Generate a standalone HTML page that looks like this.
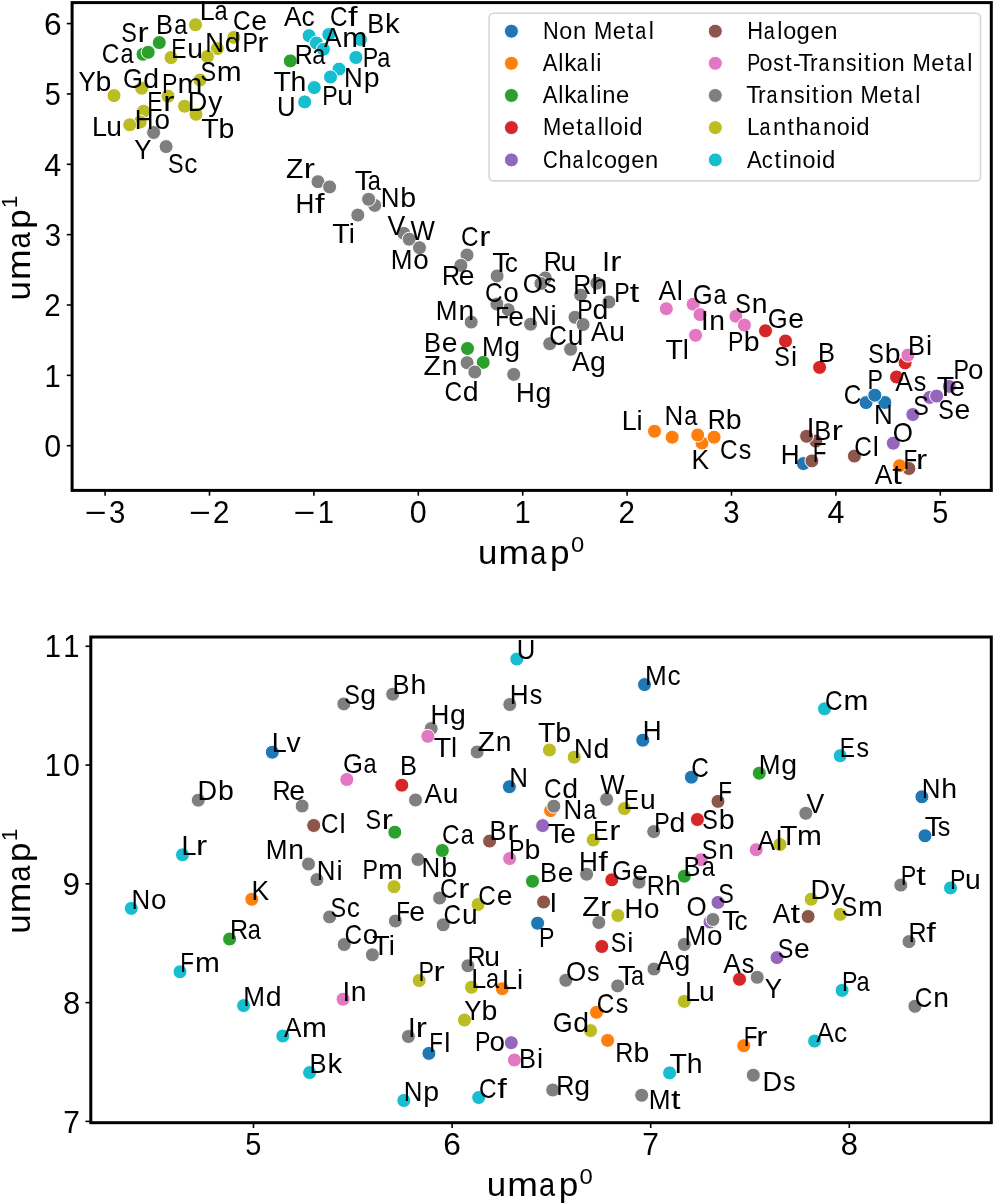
<!DOCTYPE html>
<html><head><meta charset="utf-8"><title>UMAP of elements</title>
<style>
html,body{margin:0;padding:0;background:#fff;}
body{width:993px;height:1203px;overflow:hidden;}
svg{display:block;will-change:transform;font-family:"Liberation Sans", sans-serif;font-kerning:none;}
text{font-kerning:none;}
</style></head><body>
<svg width="993" height="1203" viewBox="0 0 993 1203">
<rect width="993" height="1203" fill="#ffffff"/>
<g id="top">
<g stroke="#ffffff" stroke-width="1.0">
<circle cx="803.4" cy="463.6" r="7" fill="#1f77b4"/>
<circle cx="654.5" cy="431.3" r="7" fill="#ff7f0e"/>
<circle cx="467.5" cy="348.5" r="7" fill="#2ca02c"/>
<circle cx="819.6" cy="367.4" r="7" fill="#d62728"/>
<circle cx="866.1" cy="402.6" r="7" fill="#1f77b4"/>
<circle cx="884.8" cy="402.5" r="7" fill="#1f77b4"/>
<circle cx="893.3" cy="443.2" r="7" fill="#9467bd"/>
<circle cx="811.9" cy="460.9" r="7" fill="#8c564b"/>
<circle cx="672.2" cy="437.2" r="7" fill="#ff7f0e"/>
<circle cx="483.2" cy="362.4" r="7" fill="#2ca02c"/>
<circle cx="666.3" cy="308.7" r="7" fill="#e377c2"/>
<circle cx="785.5" cy="341" r="7" fill="#d62728"/>
<circle cx="874.8" cy="395.2" r="7" fill="#1f77b4"/>
<circle cx="912.8" cy="414.5" r="7" fill="#9467bd"/>
<circle cx="854.4" cy="456.1" r="7" fill="#8c564b"/>
<circle cx="702" cy="443" r="7" fill="#ff7f0e"/>
<circle cx="143" cy="54.3" r="7" fill="#2ca02c"/>
<circle cx="166.1" cy="146.6" r="7" fill="#7f7f7f"/>
<circle cx="357.8" cy="215.1" r="7" fill="#7f7f7f"/>
<circle cx="403.8" cy="233.4" r="7" fill="#7f7f7f"/>
<circle cx="467" cy="255" r="7" fill="#7f7f7f"/>
<circle cx="471.2" cy="322.1" r="7" fill="#7f7f7f"/>
<circle cx="508.2" cy="309.7" r="7" fill="#7f7f7f"/>
<circle cx="496.9" cy="304" r="7" fill="#7f7f7f"/>
<circle cx="530.6" cy="324.2" r="7" fill="#7f7f7f"/>
<circle cx="549.7" cy="343.7" r="7" fill="#7f7f7f"/>
<circle cx="467.1" cy="362.7" r="7" fill="#7f7f7f"/>
<circle cx="693.2" cy="304.2" r="7" fill="#e377c2"/>
<circle cx="765.5" cy="330.8" r="7" fill="#d62728"/>
<circle cx="896.5" cy="377" r="7" fill="#d62728"/>
<circle cx="929.7" cy="397.4" r="7" fill="#9467bd"/>
<circle cx="815.8" cy="441.1" r="7" fill="#8c564b"/>
<circle cx="697.7" cy="435" r="7" fill="#ff7f0e"/>
<circle cx="148.2" cy="52.3" r="7" fill="#2ca02c"/>
<circle cx="153.6" cy="132.5" r="7" fill="#7f7f7f"/>
<circle cx="318" cy="181.7" r="7" fill="#7f7f7f"/>
<circle cx="374.7" cy="205.4" r="7" fill="#7f7f7f"/>
<circle cx="409.2" cy="239.2" r="7" fill="#7f7f7f"/>
<circle cx="497.1" cy="275.9" r="7" fill="#7f7f7f"/>
<circle cx="545.3" cy="277.9" r="7" fill="#7f7f7f"/>
<circle cx="580.7" cy="295.1" r="7" fill="#7f7f7f"/>
<circle cx="575" cy="317.3" r="7" fill="#7f7f7f"/>
<circle cx="570.6" cy="349.3" r="7" fill="#7f7f7f"/>
<circle cx="474.8" cy="372" r="7" fill="#7f7f7f"/>
<circle cx="700" cy="314.6" r="7" fill="#e377c2"/>
<circle cx="735.9" cy="316.2" r="7" fill="#e377c2"/>
<circle cx="905.1" cy="362.9" r="7" fill="#d62728"/>
<circle cx="936.6" cy="396.1" r="7" fill="#9467bd"/>
<circle cx="806.6" cy="436.3" r="7" fill="#8c564b"/>
<circle cx="714.1" cy="437.2" r="7" fill="#ff7f0e"/>
<circle cx="159.3" cy="42.6" r="7" fill="#2ca02c"/>
<circle cx="195.5" cy="24.7" r="7" fill="#bcbd22"/>
<circle cx="233.8" cy="37.4" r="7" fill="#bcbd22"/>
<circle cx="217.3" cy="48.6" r="7" fill="#bcbd22"/>
<circle cx="207.4" cy="56.5" r="7" fill="#bcbd22"/>
<circle cx="168" cy="96.2" r="7" fill="#bcbd22"/>
<circle cx="200" cy="80" r="7" fill="#bcbd22"/>
<circle cx="171" cy="57.6" r="7" fill="#bcbd22"/>
<circle cx="141.7" cy="88.2" r="7" fill="#bcbd22"/>
<circle cx="196" cy="114.3" r="7" fill="#bcbd22"/>
<circle cx="184.6" cy="106.2" r="7" fill="#bcbd22"/>
<circle cx="143.6" cy="111.3" r="7" fill="#bcbd22"/>
<circle cx="140.2" cy="122" r="7" fill="#bcbd22"/>
<circle cx="114" cy="95.6" r="7" fill="#bcbd22"/>
<circle cx="129.7" cy="124.8" r="7" fill="#bcbd22"/>
<circle cx="329.6" cy="186.9" r="7" fill="#7f7f7f"/>
<circle cx="368.6" cy="199.3" r="7" fill="#7f7f7f"/>
<circle cx="419.5" cy="247.7" r="7" fill="#7f7f7f"/>
<circle cx="460.9" cy="265.4" r="7" fill="#7f7f7f"/>
<circle cx="540.9" cy="283.5" r="7" fill="#7f7f7f"/>
<circle cx="596.8" cy="283.2" r="7" fill="#7f7f7f"/>
<circle cx="608.9" cy="302" r="7" fill="#7f7f7f"/>
<circle cx="583.1" cy="324.5" r="7" fill="#7f7f7f"/>
<circle cx="513.7" cy="374.4" r="7" fill="#7f7f7f"/>
<circle cx="695.6" cy="335.3" r="7" fill="#e377c2"/>
<circle cx="744.4" cy="325.1" r="7" fill="#e377c2"/>
<circle cx="907.9" cy="355.1" r="7" fill="#e377c2"/>
<circle cx="949.3" cy="386.4" r="7" fill="#9467bd"/>
<circle cx="908.9" cy="468.5" r="7" fill="#8c564b"/>
<circle cx="899.6" cy="465.7" r="7" fill="#ff7f0e"/>
<circle cx="290.3" cy="60.9" r="7" fill="#2ca02c"/>
<circle cx="309.1" cy="35.7" r="7" fill="#17becf"/>
<circle cx="314.3" cy="87.6" r="7" fill="#17becf"/>
<circle cx="355.9" cy="57.5" r="7" fill="#17becf"/>
<circle cx="304.7" cy="101.9" r="7" fill="#17becf"/>
<circle cx="339" cy="69.1" r="7" fill="#17becf"/>
<circle cx="330.5" cy="77" r="7" fill="#17becf"/>
<circle cx="316.4" cy="43" r="7" fill="#17becf"/>
<circle cx="323.4" cy="49.3" r="7" fill="#17becf"/>
<circle cx="360.4" cy="39.5" r="7" fill="#17becf"/>
<circle cx="328.8" cy="34.5" r="7" fill="#17becf"/>
</g>
<g fill="#000">
<text y="42" font-size="27.51"><tspan x="121.34" textLength="15.58" lengthAdjust="spacingAndGlyphs">S</tspan><tspan x="137.45" textLength="11.18" lengthAdjust="spacingAndGlyphs">r</tspan></text>
<text y="63.4" font-size="27.51"><tspan x="101.86" textLength="17.56" lengthAdjust="spacingAndGlyphs">C</tspan><tspan x="120.5" textLength="13.1" lengthAdjust="spacingAndGlyphs">a</tspan></text>
<text y="34.3" font-size="27.51"><tspan x="156.11" textLength="16.98" lengthAdjust="spacingAndGlyphs">B</tspan><tspan x="174.18" textLength="13.1" lengthAdjust="spacingAndGlyphs">a</tspan></text>
<text y="19.6" font-size="27.51"><tspan x="199.79" textLength="14.99" lengthAdjust="spacingAndGlyphs">L</tspan><tspan x="214.6" textLength="13.1" lengthAdjust="spacingAndGlyphs">a</tspan></text>
<text y="30.2" font-size="27.51"><tspan x="232.96" textLength="17.56" lengthAdjust="spacingAndGlyphs">C</tspan><tspan x="251.27" textLength="15.74" lengthAdjust="spacingAndGlyphs">e</tspan></text>
<text y="58.4" font-size="27.51"><tspan x="171.14" textLength="15.15" lengthAdjust="spacingAndGlyphs">E</tspan><tspan x="187.37" textLength="15.71" lengthAdjust="spacingAndGlyphs">u</tspan></text>
<text y="52" font-size="27.51"><tspan x="205.28" textLength="18.69" lengthAdjust="spacingAndGlyphs">N</tspan><tspan x="224.68" textLength="15.84" lengthAdjust="spacingAndGlyphs">d</tspan></text>
<text y="52" font-size="27.51"><tspan x="242.4" textLength="15.46" lengthAdjust="spacingAndGlyphs">P</tspan><tspan x="257.22" textLength="11.18" lengthAdjust="spacingAndGlyphs">r</tspan></text>
<text y="90.8" font-size="27.51"><tspan x="78.43" textLength="17.24" lengthAdjust="spacingAndGlyphs">Y</tspan><tspan x="95.6" textLength="15.85" lengthAdjust="spacingAndGlyphs">b</tspan></text>
<text y="87.8" font-size="27.51"><tspan x="123.01" textLength="19.88" lengthAdjust="spacingAndGlyphs">G</tspan><tspan x="143.38" textLength="15.84" lengthAdjust="spacingAndGlyphs">d</tspan></text>
<text y="92.5" font-size="27.51"><tspan x="162.1" textLength="15.46" lengthAdjust="spacingAndGlyphs">P</tspan><tspan x="177.63" textLength="24.87" lengthAdjust="spacingAndGlyphs">m</tspan></text>
<text y="80.6" font-size="27.51"><tspan x="200.44" textLength="15.58" lengthAdjust="spacingAndGlyphs">S</tspan><tspan x="216.8" textLength="24.87" lengthAdjust="spacingAndGlyphs">m</tspan></text>
<text y="111" font-size="27.51"><tspan x="147.34" textLength="15.15" lengthAdjust="spacingAndGlyphs">E</tspan><tspan x="163.33" textLength="11.18" lengthAdjust="spacingAndGlyphs">r</tspan></text>
<text y="111" font-size="27.51"><tspan x="187.78" textLength="19.58" lengthAdjust="spacingAndGlyphs">D</tspan><tspan x="208.31" textLength="14.07" lengthAdjust="spacingAndGlyphs">y</tspan></text>
<text y="128.8" font-size="27.51"><tspan x="134.86" textLength="18.82" lengthAdjust="spacingAndGlyphs">H</tspan><tspan x="154.41" textLength="15.49" lengthAdjust="spacingAndGlyphs">o</tspan></text>
<text y="136" font-size="27.51"><tspan x="91.99" textLength="14.99" lengthAdjust="spacingAndGlyphs">L</tspan><tspan x="106.16" textLength="15.71" lengthAdjust="spacingAndGlyphs">u</tspan></text>
<text y="137.7" font-size="27.51"><tspan x="201.36" textLength="17.46" lengthAdjust="spacingAndGlyphs">T</tspan><tspan x="218.62" textLength="15.85" lengthAdjust="spacingAndGlyphs">b</tspan></text>
<text y="159.3" font-size="27.51"><tspan x="134.23" textLength="17.24" lengthAdjust="spacingAndGlyphs">Y</tspan></text>
<text y="173.4" font-size="27.51"><tspan x="167.94" textLength="15.58" lengthAdjust="spacingAndGlyphs">S</tspan><tspan x="184.23" textLength="13.14" lengthAdjust="spacingAndGlyphs">c</tspan></text>
<text y="26.4" font-size="27.51"><tspan x="283.95" textLength="17.6" lengthAdjust="spacingAndGlyphs">A</tspan><tspan x="301.59" textLength="13.14" lengthAdjust="spacingAndGlyphs">c</tspan></text>
<text y="26.4" font-size="27.51"><tspan x="329.96" textLength="17.56" lengthAdjust="spacingAndGlyphs">C</tspan><tspan x="348.14" textLength="9.55" lengthAdjust="spacingAndGlyphs">f</tspan></text>
<text y="33" font-size="27.51"><tspan x="367.21" textLength="16.98" lengthAdjust="spacingAndGlyphs">B</tspan><tspan x="385.11" textLength="14.65" lengthAdjust="spacingAndGlyphs">k</tspan></text>
<text y="47.1" font-size="27.51"><tspan x="324.05" textLength="17.6" lengthAdjust="spacingAndGlyphs">A</tspan><tspan x="342.22" textLength="24.87" lengthAdjust="spacingAndGlyphs">m</tspan></text>
<text y="64" font-size="27.51"><tspan x="294.64" textLength="18.1" lengthAdjust="spacingAndGlyphs">R</tspan><tspan x="312.33" textLength="13.1" lengthAdjust="spacingAndGlyphs">a</tspan></text>
<text y="66.9" font-size="27.51"><tspan x="362.7" textLength="15.46" lengthAdjust="spacingAndGlyphs">P</tspan><tspan x="377.22" textLength="13.1" lengthAdjust="spacingAndGlyphs">a</tspan></text>
<text y="90.9" font-size="27.51"><tspan x="273.46" textLength="17.46" lengthAdjust="spacingAndGlyphs">T</tspan><tspan x="290.59" textLength="15.82" lengthAdjust="spacingAndGlyphs">h</tspan></text>
<text y="86.9" font-size="27.51"><tspan x="344.08" textLength="18.69" lengthAdjust="spacingAndGlyphs">N</tspan><tspan x="363.77" textLength="15.85" lengthAdjust="spacingAndGlyphs">p</tspan></text>
<text y="105.4" font-size="27.51"><tspan x="322.2" textLength="15.46" lengthAdjust="spacingAndGlyphs">P</tspan><tspan x="337.26" textLength="15.71" lengthAdjust="spacingAndGlyphs">u</tspan></text>
<text y="116.4" font-size="27.51"><tspan x="277.01" textLength="18.6" lengthAdjust="spacingAndGlyphs">U</tspan></text>
<text y="177.5" font-size="27.51"><tspan x="286" textLength="17.39" lengthAdjust="spacingAndGlyphs">Z</tspan><tspan x="303.82" textLength="11.18" lengthAdjust="spacingAndGlyphs">r</tspan></text>
<text y="213.3" font-size="27.51"><tspan x="295.56" textLength="18.82" lengthAdjust="spacingAndGlyphs">H</tspan><tspan x="314.95" textLength="9.55" lengthAdjust="spacingAndGlyphs">f</tspan></text>
<text y="189.9" font-size="27.51"><tspan x="354.76" textLength="17.46" lengthAdjust="spacingAndGlyphs">T</tspan><tspan x="367.72" textLength="13.1" lengthAdjust="spacingAndGlyphs">a</tspan></text>
<text y="206.5" font-size="27.51"><tspan x="380.68" textLength="18.69" lengthAdjust="spacingAndGlyphs">N</tspan><tspan x="400.37" textLength="15.85" lengthAdjust="spacingAndGlyphs">b</tspan></text>
<text y="243.1" font-size="27.51"><tspan x="332.16" textLength="17.46" lengthAdjust="spacingAndGlyphs">T</tspan><tspan x="348.67">i</tspan></text>
<text y="235.2" font-size="27.51"><tspan x="387.38" textLength="17.73" lengthAdjust="spacingAndGlyphs">V</tspan></text>
<text y="240.2" font-size="27.51"><tspan x="410.49" textLength="24.38" lengthAdjust="spacingAndGlyphs">W</tspan></text>
<text y="269.2" font-size="27.51"><tspan x="390.76" textLength="21.76" lengthAdjust="spacingAndGlyphs">M</tspan><tspan x="413.21" textLength="15.49" lengthAdjust="spacingAndGlyphs">o</tspan></text>
<text y="246" font-size="27.51"><tspan x="460.96" textLength="17.56" lengthAdjust="spacingAndGlyphs">C</tspan><tspan x="479.17" textLength="11.18" lengthAdjust="spacingAndGlyphs">r</tspan></text>
<text y="284.6" font-size="27.51"><tspan x="442.04" textLength="18.1" lengthAdjust="spacingAndGlyphs">R</tspan><tspan x="458.8" textLength="15.74" lengthAdjust="spacingAndGlyphs">e</tspan></text>
<text y="272" font-size="27.51"><tspan x="492.16" textLength="17.46" lengthAdjust="spacingAndGlyphs">T</tspan><tspan x="504.76" textLength="13.14" lengthAdjust="spacingAndGlyphs">c</tspan></text>
<text y="302.4" font-size="27.51"><tspan x="484.96" textLength="17.56" lengthAdjust="spacingAndGlyphs">C</tspan><tspan x="503.3" textLength="15.49" lengthAdjust="spacingAndGlyphs">o</tspan></text>
<text y="270.7" font-size="27.51"><tspan x="543.64" textLength="18.1" lengthAdjust="spacingAndGlyphs">R</tspan><tspan x="560.55" textLength="15.71" lengthAdjust="spacingAndGlyphs">u</tspan></text>
<text y="271.2" font-size="27.51"><tspan x="602.37">I</tspan><tspan x="610.21" textLength="11.18" lengthAdjust="spacingAndGlyphs">r</tspan></text>
<text y="292.5" font-size="27.51"><tspan x="522.67" textLength="20.15" lengthAdjust="spacingAndGlyphs">O</tspan><tspan x="543.77" textLength="12.56" lengthAdjust="spacingAndGlyphs">s</tspan></text>
<text y="293.8" font-size="27.51"><tspan x="573.34" textLength="18.1" lengthAdjust="spacingAndGlyphs">R</tspan><tspan x="591.44" textLength="15.82" lengthAdjust="spacingAndGlyphs">h</tspan></text>
<text y="301.5" font-size="27.51"><tspan x="614.3" textLength="15.46" lengthAdjust="spacingAndGlyphs">P</tspan><tspan x="629.69" textLength="9.55" lengthAdjust="spacingAndGlyphs">t</tspan></text>
<text y="326.1" font-size="27.51"><tspan x="495.16" textLength="13.72" lengthAdjust="spacingAndGlyphs">F</tspan><tspan x="508.31" textLength="15.74" lengthAdjust="spacingAndGlyphs">e</tspan></text>
<text y="325.3" font-size="27.51"><tspan x="530.88" textLength="18.69" lengthAdjust="spacingAndGlyphs">N</tspan><tspan x="550.62">i</tspan></text>
<text y="318.7" font-size="27.51"><tspan x="577.2" textLength="15.46" lengthAdjust="spacingAndGlyphs">P</tspan><tspan x="592.58" textLength="15.84" lengthAdjust="spacingAndGlyphs">d</tspan></text>
<text y="319.8" font-size="27.51"><tspan x="435.86" textLength="21.76" lengthAdjust="spacingAndGlyphs">M</tspan><tspan x="458.54" textLength="15.71" lengthAdjust="spacingAndGlyphs">n</tspan></text>
<text y="352.3" font-size="27.51"><tspan x="424.01" textLength="16.98" lengthAdjust="spacingAndGlyphs">B</tspan><tspan x="441.75" textLength="15.74" lengthAdjust="spacingAndGlyphs">e</tspan></text>
<text y="356" font-size="27.51"><tspan x="481.96" textLength="21.76" lengthAdjust="spacingAndGlyphs">M</tspan><tspan x="504.38" textLength="15.84" lengthAdjust="spacingAndGlyphs">g</tspan></text>
<text y="374.6" font-size="27.51"><tspan x="423.6" textLength="17.39" lengthAdjust="spacingAndGlyphs">Z</tspan><tspan x="441.78" textLength="15.71" lengthAdjust="spacingAndGlyphs">n</tspan></text>
<text y="400.8" font-size="27.51"><tspan x="444.46" textLength="17.56" lengthAdjust="spacingAndGlyphs">C</tspan><tspan x="462.77" textLength="15.84" lengthAdjust="spacingAndGlyphs">d</tspan></text>
<text y="402.2" font-size="27.51"><tspan x="516.06" textLength="18.82" lengthAdjust="spacingAndGlyphs">H</tspan><tspan x="535.58" textLength="15.84" lengthAdjust="spacingAndGlyphs">g</tspan></text>
<text y="345.2" font-size="27.51"><tspan x="549.36" textLength="17.56" lengthAdjust="spacingAndGlyphs">C</tspan><tspan x="567.81" textLength="15.71" lengthAdjust="spacingAndGlyphs">u</tspan></text>
<text y="340.7" font-size="27.51"><tspan x="591.05" textLength="17.6" lengthAdjust="spacingAndGlyphs">A</tspan><tspan x="609.21" textLength="15.71" lengthAdjust="spacingAndGlyphs">u</tspan></text>
<text y="371" font-size="27.51"><tspan x="571.95" textLength="17.6" lengthAdjust="spacingAndGlyphs">A</tspan><tspan x="589.97" textLength="15.84" lengthAdjust="spacingAndGlyphs">g</tspan></text>
<text y="300.4" font-size="27.51"><tspan x="658.45" textLength="17.6" lengthAdjust="spacingAndGlyphs">A</tspan><tspan x="676.8">l</tspan></text>
<text y="304.4" font-size="27.51"><tspan x="692.71" textLength="19.88" lengthAdjust="spacingAndGlyphs">G</tspan><tspan x="713.4" textLength="13.1" lengthAdjust="spacingAndGlyphs">a</tspan></text>
<text y="312.5" font-size="27.51"><tspan x="735.34" textLength="15.58" lengthAdjust="spacingAndGlyphs">S</tspan><tspan x="751.81" textLength="15.71" lengthAdjust="spacingAndGlyphs">n</tspan></text>
<text y="330.2" font-size="27.51"><tspan x="701.07">I</tspan><tspan x="709.26" textLength="15.71" lengthAdjust="spacingAndGlyphs">n</tspan></text>
<text y="359.2" font-size="27.51"><tspan x="665.46" textLength="17.46" lengthAdjust="spacingAndGlyphs">T</tspan><tspan x="682.76">l</tspan></text>
<text y="351.2" font-size="27.51"><tspan x="728" textLength="15.46" lengthAdjust="spacingAndGlyphs">P</tspan><tspan x="743.67" textLength="15.85" lengthAdjust="spacingAndGlyphs">b</tspan></text>
<text y="327.9" font-size="27.51"><tspan x="767.81" textLength="19.88" lengthAdjust="spacingAndGlyphs">G</tspan><tspan x="788.17" textLength="15.74" lengthAdjust="spacingAndGlyphs">e</tspan></text>
<text y="365.8" font-size="27.51"><tspan x="774.34" textLength="15.58" lengthAdjust="spacingAndGlyphs">S</tspan><tspan x="790.9">i</tspan></text>
<text y="361.8" font-size="27.51"><tspan x="817.91" textLength="16.98" lengthAdjust="spacingAndGlyphs">B</tspan></text>
<text y="363" font-size="27.51"><tspan x="868.34" textLength="15.58" lengthAdjust="spacingAndGlyphs">S</tspan><tspan x="884.85" textLength="15.85" lengthAdjust="spacingAndGlyphs">b</tspan></text>
<text y="355.1" font-size="27.51"><tspan x="907.91" textLength="16.98" lengthAdjust="spacingAndGlyphs">B</tspan><tspan x="926">i</tspan></text>
<text y="389.3" font-size="27.51"><tspan x="867.4" textLength="15.46" lengthAdjust="spacingAndGlyphs">P</tspan></text>
<text y="391.1" font-size="27.51"><tspan x="895.15" textLength="17.6" lengthAdjust="spacingAndGlyphs">A</tspan><tspan x="913.64" textLength="12.56" lengthAdjust="spacingAndGlyphs">s</tspan></text>
<text y="379" font-size="27.51"><tspan x="953.5" textLength="15.46" lengthAdjust="spacingAndGlyphs">P</tspan><tspan x="967.97" textLength="15.49" lengthAdjust="spacingAndGlyphs">o</tspan></text>
<text y="396.3" font-size="27.51"><tspan x="936.76" textLength="17.46" lengthAdjust="spacingAndGlyphs">T</tspan><tspan x="949.27" textLength="15.74" lengthAdjust="spacingAndGlyphs">e</tspan></text>
<text y="403.9" font-size="27.51"><tspan x="843.86" textLength="17.56" lengthAdjust="spacingAndGlyphs">C</tspan></text>
<text y="414.7" font-size="27.51"><tspan x="913.34" textLength="15.58" lengthAdjust="spacingAndGlyphs">S</tspan></text>
<text y="418.9" font-size="27.51"><tspan x="938.24" textLength="15.58" lengthAdjust="spacingAndGlyphs">S</tspan><tspan x="954.45" textLength="15.74" lengthAdjust="spacingAndGlyphs">e</tspan></text>
<text y="424.4" font-size="27.51"><tspan x="874.08" textLength="18.69" lengthAdjust="spacingAndGlyphs">N</tspan></text>
<text y="442.1" font-size="27.51"><tspan x="892.87" textLength="20.15" lengthAdjust="spacingAndGlyphs">O</tspan></text>
<text y="436.9" font-size="27.51"><tspan x="806.77">I</tspan></text>
<text y="440.1" font-size="27.51"><tspan x="814.21" textLength="16.98" lengthAdjust="spacingAndGlyphs">B</tspan><tspan x="831.85" textLength="11.18" lengthAdjust="spacingAndGlyphs">r</tspan></text>
<text y="464.2" font-size="27.51"><tspan x="780.76" textLength="18.82" lengthAdjust="spacingAndGlyphs">H</tspan></text>
<text y="461.5" font-size="27.51"><tspan x="812.76" textLength="13.72" lengthAdjust="spacingAndGlyphs">F</tspan></text>
<text y="456.2" font-size="27.51"><tspan x="854.16" textLength="17.56" lengthAdjust="spacingAndGlyphs">C</tspan><tspan x="872.81">l</tspan></text>
<text y="469.1" font-size="27.51"><tspan x="903.56" textLength="13.72" lengthAdjust="spacingAndGlyphs">F</tspan><tspan x="916.14" textLength="11.18" lengthAdjust="spacingAndGlyphs">r</tspan></text>
<text y="483.6" font-size="27.51"><tspan x="874.65" textLength="17.6" lengthAdjust="spacingAndGlyphs">A</tspan><tspan x="892.22" textLength="9.55" lengthAdjust="spacingAndGlyphs">t</tspan></text>
<text y="430.2" font-size="27.51"><tspan x="621.69" textLength="14.99" lengthAdjust="spacingAndGlyphs">L</tspan><tspan x="636.52">i</tspan></text>
<text y="424.6" font-size="27.51"><tspan x="664.48" textLength="18.69" lengthAdjust="spacingAndGlyphs">N</tspan><tspan x="684.2" textLength="13.1" lengthAdjust="spacingAndGlyphs">a</tspan></text>
<text y="429.4" font-size="27.51"><tspan x="707.64" textLength="18.1" lengthAdjust="spacingAndGlyphs">R</tspan><tspan x="725.88" textLength="15.85" lengthAdjust="spacingAndGlyphs">b</tspan></text>
<text y="459.2" font-size="27.51"><tspan x="720.06" textLength="17.56" lengthAdjust="spacingAndGlyphs">C</tspan><tspan x="738.84" textLength="12.56" lengthAdjust="spacingAndGlyphs">s</tspan></text>
<text y="469.4" font-size="27.51"><tspan x="691.43" textLength="17.62" lengthAdjust="spacingAndGlyphs">K</tspan></text>
</g>
<rect x="489.1" y="13.3" width="491.4" height="167.6" rx="4.5" ry="4.5" fill="#ffffff" fill-opacity="0.8" stroke="#d6d6d6" stroke-width="1.6"/>
<circle cx="511.4" cy="31.2" r="7" fill="#1f77b4" stroke="#fff" stroke-width="1.0"/>
<text y="38.85" font-size="23.1" xml:space="preserve"><tspan x="543.08" textLength="15.69" lengthAdjust="spacingAndGlyphs">N</tspan><tspan x="559.39" textLength="13.01" lengthAdjust="spacingAndGlyphs">o</tspan><tspan x="573.04" textLength="13.19" lengthAdjust="spacingAndGlyphs">n</tspan><tspan x="586.56"> </tspan><tspan x="593.91" textLength="18.27" lengthAdjust="spacingAndGlyphs">M</tspan><tspan x="612.74" textLength="13.22" lengthAdjust="spacingAndGlyphs">e</tspan><tspan x="627.12">t</tspan><tspan x="635.18" textLength="11" lengthAdjust="spacingAndGlyphs">a</tspan><tspan x="648.67">l</tspan></text>
<circle cx="511.4" cy="63.3" r="7" fill="#ff7f0e" stroke="#fff" stroke-width="1.0"/>
<text y="70.95" font-size="23.1"><tspan x="542.83" textLength="14.78" lengthAdjust="spacingAndGlyphs">A</tspan><tspan x="558.24">l</tspan><tspan x="564.2" textLength="12.3" lengthAdjust="spacingAndGlyphs">k</tspan><tspan x="576.7" textLength="11" lengthAdjust="spacingAndGlyphs">a</tspan><tspan x="590.19">l</tspan><tspan x="596.31">i</tspan></text>
<circle cx="511.4" cy="95.45" r="7" fill="#2ca02c" stroke="#fff" stroke-width="1.0"/>
<text y="103.1" font-size="23.1"><tspan x="542.83" textLength="14.78" lengthAdjust="spacingAndGlyphs">A</tspan><tspan x="558.24">l</tspan><tspan x="564.2" textLength="12.3" lengthAdjust="spacingAndGlyphs">k</tspan><tspan x="576.7" textLength="11" lengthAdjust="spacingAndGlyphs">a</tspan><tspan x="590.19">l</tspan><tspan x="596.31">i</tspan><tspan x="602.34" textLength="13.19" lengthAdjust="spacingAndGlyphs">n</tspan><tspan x="616.07" textLength="13.22" lengthAdjust="spacingAndGlyphs">e</tspan></text>
<circle cx="511.4" cy="127.6" r="7" fill="#d62728" stroke="#fff" stroke-width="1.0"/>
<text y="135.25" font-size="23.1"><tspan x="543.06" textLength="18.27" lengthAdjust="spacingAndGlyphs">M</tspan><tspan x="561.89" textLength="13.22" lengthAdjust="spacingAndGlyphs">e</tspan><tspan x="576.26">t</tspan><tspan x="584.32" textLength="11" lengthAdjust="spacingAndGlyphs">a</tspan><tspan x="597.81">l</tspan><tspan x="603.93">l</tspan><tspan x="609.78" textLength="13.01" lengthAdjust="spacingAndGlyphs">o</tspan><tspan x="623.51">i</tspan><tspan x="629.33" textLength="13.3" lengthAdjust="spacingAndGlyphs">d</tspan></text>
<circle cx="511.4" cy="159.9" r="7" fill="#9467bd" stroke="#fff" stroke-width="1.0"/>
<text y="167.55" font-size="23.1"><tspan x="542.9" textLength="14.75" lengthAdjust="spacingAndGlyphs">C</tspan><tspan x="558.4" textLength="13.28" lengthAdjust="spacingAndGlyphs">h</tspan><tspan x="572.49" textLength="11" lengthAdjust="spacingAndGlyphs">a</tspan><tspan x="585.98">l</tspan><tspan x="591.87" textLength="11.04" lengthAdjust="spacingAndGlyphs">c</tspan><tspan x="603.93" textLength="13.01" lengthAdjust="spacingAndGlyphs">o</tspan><tspan x="617.36" textLength="13.3" lengthAdjust="spacingAndGlyphs">g</tspan><tspan x="631.32" textLength="13.22" lengthAdjust="spacingAndGlyphs">e</tspan><tspan x="645.08" textLength="13.19" lengthAdjust="spacingAndGlyphs">n</tspan></text>
<circle cx="715.3" cy="31.2" r="7" fill="#8c564b" stroke="#fff" stroke-width="1.0"/>
<text y="38.85" font-size="23.1"><tspan x="747.16" textLength="15.8" lengthAdjust="spacingAndGlyphs">H</tspan><tspan x="763.82" textLength="11" lengthAdjust="spacingAndGlyphs">a</tspan><tspan x="777.31">l</tspan><tspan x="783.17" textLength="13.01" lengthAdjust="spacingAndGlyphs">o</tspan><tspan x="796.61" textLength="13.3" lengthAdjust="spacingAndGlyphs">g</tspan><tspan x="810.57" textLength="13.22" lengthAdjust="spacingAndGlyphs">e</tspan><tspan x="824.32" textLength="13.19" lengthAdjust="spacingAndGlyphs">n</tspan></text>
<circle cx="715.3" cy="63.3" r="7" fill="#e377c2" stroke="#fff" stroke-width="1.0"/>
<text y="70.95" font-size="23.1" xml:space="preserve"><tspan x="747.36" textLength="12.98" lengthAdjust="spacingAndGlyphs">P</tspan><tspan x="759.51" textLength="13.01" lengthAdjust="spacingAndGlyphs">o</tspan><tspan x="773.35" textLength="10.54" lengthAdjust="spacingAndGlyphs">s</tspan><tspan x="785.25">t</tspan><tspan x="792.95">-</tspan><tspan x="798.15" textLength="14.66" lengthAdjust="spacingAndGlyphs">T</tspan><tspan x="810.05">r</tspan><tspan x="818.48" textLength="11" lengthAdjust="spacingAndGlyphs">a</tspan><tspan x="831.9" textLength="13.19" lengthAdjust="spacingAndGlyphs">n</tspan><tspan x="846.03" textLength="10.54" lengthAdjust="spacingAndGlyphs">s</tspan><tspan x="857.39">i</tspan><tspan x="864.04">t</tspan><tspan x="872.13">i</tspan><tspan x="877.97" textLength="13.01" lengthAdjust="spacingAndGlyphs">o</tspan><tspan x="891.62" textLength="13.19" lengthAdjust="spacingAndGlyphs">n</tspan><tspan x="905.14"> </tspan><tspan x="912.49" textLength="18.27" lengthAdjust="spacingAndGlyphs">M</tspan><tspan x="931.32" textLength="13.22" lengthAdjust="spacingAndGlyphs">e</tspan><tspan x="945.7">t</tspan><tspan x="953.76" textLength="11" lengthAdjust="spacingAndGlyphs">a</tspan><tspan x="967.25">l</tspan></text>
<circle cx="715.3" cy="95.45" r="7" fill="#7f7f7f" stroke="#fff" stroke-width="1.0"/>
<text y="103.1" font-size="23.1" xml:space="preserve"><tspan x="746.2" textLength="14.66" lengthAdjust="spacingAndGlyphs">T</tspan><tspan x="758.11">r</tspan><tspan x="766.53" textLength="11" lengthAdjust="spacingAndGlyphs">a</tspan><tspan x="779.95" textLength="13.19" lengthAdjust="spacingAndGlyphs">n</tspan><tspan x="794.08" textLength="10.54" lengthAdjust="spacingAndGlyphs">s</tspan><tspan x="805.44">i</tspan><tspan x="812.1">t</tspan><tspan x="820.18">i</tspan><tspan x="826.02" textLength="13.01" lengthAdjust="spacingAndGlyphs">o</tspan><tspan x="839.67" textLength="13.19" lengthAdjust="spacingAndGlyphs">n</tspan><tspan x="853.19"> </tspan><tspan x="860.54" textLength="18.27" lengthAdjust="spacingAndGlyphs">M</tspan><tspan x="879.37" textLength="13.22" lengthAdjust="spacingAndGlyphs">e</tspan><tspan x="893.75">t</tspan><tspan x="901.81" textLength="11" lengthAdjust="spacingAndGlyphs">a</tspan><tspan x="915.3">l</tspan></text>
<circle cx="715.3" cy="127.6" r="7" fill="#bcbd22" stroke="#fff" stroke-width="1.0"/>
<text y="135.25" font-size="23.1"><tspan x="747.1" textLength="12.59" lengthAdjust="spacingAndGlyphs">L</tspan><tspan x="759.54" textLength="11" lengthAdjust="spacingAndGlyphs">a</tspan><tspan x="772.96" textLength="13.19" lengthAdjust="spacingAndGlyphs">n</tspan><tspan x="787.53">t</tspan><tspan x="795.45" textLength="13.28" lengthAdjust="spacingAndGlyphs">h</tspan><tspan x="809.53" textLength="11" lengthAdjust="spacingAndGlyphs">a</tspan><tspan x="822.96" textLength="13.19" lengthAdjust="spacingAndGlyphs">n</tspan><tspan x="836.71" textLength="13.01" lengthAdjust="spacingAndGlyphs">o</tspan><tspan x="850.44">i</tspan><tspan x="856.26" textLength="13.3" lengthAdjust="spacingAndGlyphs">d</tspan></text>
<circle cx="715.3" cy="159.9" r="7" fill="#17becf" stroke="#fff" stroke-width="1.0"/>
<text y="167.55" font-size="23.1"><tspan x="746.93" textLength="14.78" lengthAdjust="spacingAndGlyphs">A</tspan><tspan x="761.74" textLength="11.04" lengthAdjust="spacingAndGlyphs">c</tspan><tspan x="774.6">t</tspan><tspan x="782.69">i</tspan><tspan x="788.72" textLength="13.19" lengthAdjust="spacingAndGlyphs">n</tspan><tspan x="802.47" textLength="13.01" lengthAdjust="spacingAndGlyphs">o</tspan><tspan x="816.2">i</tspan><tspan x="822.02" textLength="13.3" lengthAdjust="spacingAndGlyphs">d</tspan></text>
<rect x="72.1" y="2.6" width="919.2" height="487.8" fill="none" stroke="#000" stroke-width="3.0"/>
<line x1="105.1" y1="490.4" x2="105.1" y2="495.7" stroke="#000" stroke-width="1.6"/>
<text y="523" font-size="30.45"><tspan x="84.96" textLength="21.82" lengthAdjust="spacingAndGlyphs">−</tspan><tspan x="109.11" textLength="16.33" lengthAdjust="spacingAndGlyphs">3</tspan></text>
<line x1="209.5" y1="490.4" x2="209.5" y2="495.7" stroke="#000" stroke-width="1.6"/>
<text y="523" font-size="30.45"><tspan x="189.36" textLength="21.82" lengthAdjust="spacingAndGlyphs">−</tspan><tspan x="213.07" textLength="16.39" lengthAdjust="spacingAndGlyphs">2</tspan></text>
<line x1="313.9" y1="490.4" x2="313.9" y2="495.7" stroke="#000" stroke-width="1.6"/>
<text y="523" font-size="30.45"><tspan x="293.76" textLength="21.82" lengthAdjust="spacingAndGlyphs">−</tspan><tspan x="317.79" textLength="16.24" lengthAdjust="spacingAndGlyphs">1</tspan></text>
<line x1="418.3" y1="490.4" x2="418.3" y2="495.7" stroke="#000" stroke-width="1.6"/>
<text y="523" font-size="30.45"><tspan x="409.79">0</tspan></text>
<line x1="522.7" y1="490.4" x2="522.7" y2="495.7" stroke="#000" stroke-width="1.6"/>
<text y="523" font-size="30.45"><tspan x="514.44" textLength="16.24" lengthAdjust="spacingAndGlyphs">1</tspan></text>
<line x1="627.1" y1="490.4" x2="627.1" y2="495.7" stroke="#000" stroke-width="1.6"/>
<text y="523" font-size="30.45"><tspan x="618.52" textLength="16.39" lengthAdjust="spacingAndGlyphs">2</tspan></text>
<line x1="731.5" y1="490.4" x2="731.5" y2="495.7" stroke="#000" stroke-width="1.6"/>
<text y="523" font-size="30.45"><tspan x="723.37" textLength="16.33" lengthAdjust="spacingAndGlyphs">3</tspan></text>
<line x1="835.9" y1="490.4" x2="835.9" y2="495.7" stroke="#000" stroke-width="1.6"/>
<text y="523" font-size="30.45"><tspan x="827.39">4</tspan></text>
<line x1="940.3" y1="490.4" x2="940.3" y2="495.7" stroke="#000" stroke-width="1.6"/>
<text y="523" font-size="30.45"><tspan x="932.16" textLength="16.05" lengthAdjust="spacingAndGlyphs">5</tspan></text>
<line x1="66.8" y1="445.7" x2="72.1" y2="445.7" stroke="#000" stroke-width="1.6"/>
<text y="456.9" font-size="30.45"><tspan x="44.3">0</tspan></text>
<line x1="66.8" y1="375.35" x2="72.1" y2="375.35" stroke="#000" stroke-width="1.6"/>
<text y="386.55" font-size="30.45"><tspan x="44.54" textLength="16.24" lengthAdjust="spacingAndGlyphs">1</tspan></text>
<line x1="66.8" y1="305" x2="72.1" y2="305" stroke="#000" stroke-width="1.6"/>
<text y="316.2" font-size="30.45"><tspan x="44.22" textLength="16.39" lengthAdjust="spacingAndGlyphs">2</tspan></text>
<line x1="66.8" y1="234.65" x2="72.1" y2="234.65" stroke="#000" stroke-width="1.6"/>
<text y="245.85" font-size="30.45"><tspan x="44.67" textLength="16.33" lengthAdjust="spacingAndGlyphs">3</tspan></text>
<line x1="66.8" y1="164.3" x2="72.1" y2="164.3" stroke="#000" stroke-width="1.6"/>
<text y="175.5" font-size="30.45"><tspan x="44.29">4</tspan></text>
<line x1="66.8" y1="93.95" x2="72.1" y2="93.95" stroke="#000" stroke-width="1.6"/>
<text y="105.15" font-size="30.45"><tspan x="44.66" textLength="16.05" lengthAdjust="spacingAndGlyphs">5</tspan></text>
<line x1="66.8" y1="23.6" x2="72.1" y2="23.6" stroke="#000" stroke-width="1.6"/>
<text y="34.8" font-size="30.45"><tspan x="44" textLength="17.6" lengthAdjust="spacingAndGlyphs">6</tspan></text>
</g>
<g id="bottom">
<g stroke="#ffffff" stroke-width="1.0">
<circle cx="642.8" cy="740.2" r="7" fill="#1f77b4"/>
<circle cx="502.3" cy="988.7" r="7" fill="#ff7f0e"/>
<circle cx="532.5" cy="881.3" r="7" fill="#2ca02c"/>
<circle cx="401.8" cy="785.2" r="7" fill="#d62728"/>
<circle cx="691.4" cy="777.2" r="7" fill="#1f77b4"/>
<circle cx="509.4" cy="786.7" r="7" fill="#1f77b4"/>
<circle cx="710" cy="922" r="7" fill="#9467bd"/>
<circle cx="718" cy="801.4" r="7" fill="#8c564b"/>
<circle cx="550.6" cy="810.6" r="7" fill="#ff7f0e"/>
<circle cx="759.3" cy="773.2" r="7" fill="#2ca02c"/>
<circle cx="756.2" cy="849.7" r="7" fill="#e377c2"/>
<circle cx="601.8" cy="946.5" r="7" fill="#d62728"/>
<circle cx="537.6" cy="923.2" r="7" fill="#1f77b4"/>
<circle cx="718" cy="902.4" r="7" fill="#9467bd"/>
<circle cx="313.7" cy="825.5" r="7" fill="#8c564b"/>
<circle cx="251.8" cy="899.3" r="7" fill="#ff7f0e"/>
<circle cx="442.3" cy="850.5" r="7" fill="#2ca02c"/>
<circle cx="329.6" cy="916.9" r="7" fill="#7f7f7f"/>
<circle cx="372.4" cy="954.8" r="7" fill="#7f7f7f"/>
<circle cx="805.8" cy="813.3" r="7" fill="#7f7f7f"/>
<circle cx="439.6" cy="898" r="7" fill="#7f7f7f"/>
<circle cx="308.5" cy="864" r="7" fill="#7f7f7f"/>
<circle cx="395.4" cy="921" r="7" fill="#7f7f7f"/>
<circle cx="344.2" cy="944.5" r="7" fill="#7f7f7f"/>
<circle cx="316.9" cy="879.6" r="7" fill="#7f7f7f"/>
<circle cx="443.2" cy="924.8" r="7" fill="#7f7f7f"/>
<circle cx="477.1" cy="752" r="7" fill="#7f7f7f"/>
<circle cx="346.8" cy="779.5" r="7" fill="#e377c2"/>
<circle cx="611.8" cy="879.8" r="7" fill="#d62728"/>
<circle cx="739.5" cy="979.3" r="7" fill="#d62728"/>
<circle cx="777" cy="957.6" r="7" fill="#9467bd"/>
<circle cx="489.6" cy="841.1" r="7" fill="#8c564b"/>
<circle cx="607.6" cy="1040.4" r="7" fill="#ff7f0e"/>
<circle cx="394.8" cy="832.2" r="7" fill="#2ca02c"/>
<circle cx="757.2" cy="977.3" r="7" fill="#7f7f7f"/>
<circle cx="598.8" cy="922.5" r="7" fill="#7f7f7f"/>
<circle cx="417.9" cy="859.5" r="7" fill="#7f7f7f"/>
<circle cx="684.3" cy="944.5" r="7" fill="#7f7f7f"/>
<circle cx="712.9" cy="919.5" r="7" fill="#7f7f7f"/>
<circle cx="467.9" cy="965.8" r="7" fill="#7f7f7f"/>
<circle cx="639" cy="882.2" r="7" fill="#7f7f7f"/>
<circle cx="653.7" cy="831.6" r="7" fill="#7f7f7f"/>
<circle cx="654" cy="969" r="7" fill="#7f7f7f"/>
<circle cx="553.8" cy="806.2" r="7" fill="#7f7f7f"/>
<circle cx="343.1" cy="999.2" r="7" fill="#e377c2"/>
<circle cx="701.2" cy="859.7" r="7" fill="#e377c2"/>
<circle cx="697.4" cy="819.5" r="7" fill="#d62728"/>
<circle cx="542.6" cy="825.6" r="7" fill="#9467bd"/>
<circle cx="543.6" cy="902" r="7" fill="#8c564b"/>
<circle cx="596.5" cy="1012.3" r="7" fill="#ff7f0e"/>
<circle cx="684.3" cy="876.2" r="7" fill="#2ca02c"/>
<circle cx="471.5" cy="987.3" r="7" fill="#bcbd22"/>
<circle cx="478.1" cy="904.5" r="7" fill="#bcbd22"/>
<circle cx="419.2" cy="980.5" r="7" fill="#bcbd22"/>
<circle cx="574.2" cy="757.2" r="7" fill="#bcbd22"/>
<circle cx="394" cy="886.7" r="7" fill="#bcbd22"/>
<circle cx="840.2" cy="914.4" r="7" fill="#bcbd22"/>
<circle cx="624.4" cy="808.6" r="7" fill="#bcbd22"/>
<circle cx="590.6" cy="1030.6" r="7" fill="#bcbd22"/>
<circle cx="549.4" cy="750" r="7" fill="#bcbd22"/>
<circle cx="811.2" cy="899.2" r="7" fill="#bcbd22"/>
<circle cx="617.9" cy="915.5" r="7" fill="#bcbd22"/>
<circle cx="593.2" cy="840" r="7" fill="#bcbd22"/>
<circle cx="780" cy="844.5" r="7" fill="#bcbd22"/>
<circle cx="464.5" cy="1020" r="7" fill="#bcbd22"/>
<circle cx="684.3" cy="1001.4" r="7" fill="#bcbd22"/>
<circle cx="586.6" cy="874.2" r="7" fill="#7f7f7f"/>
<circle cx="617.7" cy="985.9" r="7" fill="#7f7f7f"/>
<circle cx="606.6" cy="799.4" r="7" fill="#7f7f7f"/>
<circle cx="302.1" cy="806" r="7" fill="#7f7f7f"/>
<circle cx="565.8" cy="980.3" r="7" fill="#7f7f7f"/>
<circle cx="408.4" cy="1036.5" r="7" fill="#7f7f7f"/>
<circle cx="900.8" cy="885.1" r="7" fill="#7f7f7f"/>
<circle cx="415.5" cy="800" r="7" fill="#7f7f7f"/>
<circle cx="431.2" cy="728.6" r="7" fill="#7f7f7f"/>
<circle cx="427.8" cy="736.3" r="7" fill="#e377c2"/>
<circle cx="509.6" cy="858.5" r="7" fill="#e377c2"/>
<circle cx="514.4" cy="1060" r="7" fill="#e377c2"/>
<circle cx="511.3" cy="1042.7" r="7" fill="#9467bd"/>
<circle cx="808.1" cy="916.5" r="7" fill="#8c564b"/>
<circle cx="743.7" cy="1045.7" r="7" fill="#ff7f0e"/>
<circle cx="229.6" cy="939" r="7" fill="#2ca02c"/>
<circle cx="814.6" cy="1041.1" r="7" fill="#17becf"/>
<circle cx="669.6" cy="1072.9" r="7" fill="#17becf"/>
<circle cx="842.1" cy="990.4" r="7" fill="#17becf"/>
<circle cx="516.8" cy="659.1" r="7" fill="#17becf"/>
<circle cx="403.8" cy="1100.5" r="7" fill="#17becf"/>
<circle cx="950.5" cy="887.9" r="7" fill="#17becf"/>
<circle cx="282.8" cy="1036" r="7" fill="#17becf"/>
<circle cx="824.5" cy="708.8" r="7" fill="#17becf"/>
<circle cx="309.6" cy="1072.6" r="7" fill="#17becf"/>
<circle cx="478.7" cy="1097.5" r="7" fill="#17becf"/>
<circle cx="840.2" cy="755.7" r="7" fill="#17becf"/>
<circle cx="180" cy="971.8" r="7" fill="#17becf"/>
<circle cx="243.6" cy="1005.6" r="7" fill="#17becf"/>
<circle cx="131.3" cy="908.4" r="7" fill="#17becf"/>
<circle cx="182.5" cy="854.8" r="7" fill="#17becf"/>
<circle cx="909" cy="941.6" r="7" fill="#7f7f7f"/>
<circle cx="198.3" cy="800.2" r="7" fill="#7f7f7f"/>
<circle cx="343.8" cy="703.9" r="7" fill="#7f7f7f"/>
<circle cx="392.7" cy="694.2" r="7" fill="#7f7f7f"/>
<circle cx="509.8" cy="704.5" r="7" fill="#7f7f7f"/>
<circle cx="641.7" cy="1095.3" r="7" fill="#7f7f7f"/>
<circle cx="753.3" cy="1075.2" r="7" fill="#7f7f7f"/>
<circle cx="552.7" cy="1090" r="7" fill="#7f7f7f"/>
<circle cx="914.9" cy="1006.3" r="7" fill="#7f7f7f"/>
<circle cx="921.9" cy="796.8" r="7" fill="#1f77b4"/>
<circle cx="428.9" cy="1053.4" r="7" fill="#1f77b4"/>
<circle cx="644.5" cy="684.6" r="7" fill="#1f77b4"/>
<circle cx="272.3" cy="752.2" r="7" fill="#1f77b4"/>
<circle cx="925" cy="835.8" r="7" fill="#1f77b4"/>
</g>
<g fill="#000">
<text y="800" font-size="27.51"><tspan x="197.58" textLength="19.58" lengthAdjust="spacingAndGlyphs">D</tspan><tspan x="217.95" textLength="15.85" lengthAdjust="spacingAndGlyphs">b</tspan></text>
<text y="855.4" font-size="27.51"><tspan x="181.59" textLength="14.99" lengthAdjust="spacingAndGlyphs">L</tspan><tspan x="195.98" textLength="11.18" lengthAdjust="spacingAndGlyphs">r</tspan></text>
<text y="752.2" font-size="27.51"><tspan x="271.69" textLength="14.99" lengthAdjust="spacingAndGlyphs">L</tspan><tspan x="286.61" textLength="14.14" lengthAdjust="spacingAndGlyphs">v</tspan></text>
<text y="800.1" font-size="27.51"><tspan x="272.44" textLength="18.1" lengthAdjust="spacingAndGlyphs">R</tspan><tspan x="289.2" textLength="15.74" lengthAdjust="spacingAndGlyphs">e</tspan></text>
<text y="833.2" font-size="27.51"><tspan x="320.96" textLength="17.56" lengthAdjust="spacingAndGlyphs">C</tspan><tspan x="339.61">l</tspan></text>
<text y="859.2" font-size="27.51"><tspan x="265.66" textLength="21.76" lengthAdjust="spacingAndGlyphs">M</tspan><tspan x="288.34" textLength="15.71" lengthAdjust="spacingAndGlyphs">n</tspan></text>
<text y="879.9" font-size="27.51"><tspan x="316.78" textLength="18.69" lengthAdjust="spacingAndGlyphs">N</tspan><tspan x="336.52">i</tspan></text>
<text y="703.9" font-size="27.51"><tspan x="344.14" textLength="15.58" lengthAdjust="spacingAndGlyphs">S</tspan><tspan x="360.35" textLength="15.84" lengthAdjust="spacingAndGlyphs">g</tspan></text>
<text y="693.8" font-size="27.51"><tspan x="392.61" textLength="16.98" lengthAdjust="spacingAndGlyphs">B</tspan><tspan x="410.51" textLength="15.82" lengthAdjust="spacingAndGlyphs">h</tspan></text>
<text y="772.9" font-size="27.51"><tspan x="342.91" textLength="19.88" lengthAdjust="spacingAndGlyphs">G</tspan><tspan x="363.6" textLength="13.1" lengthAdjust="spacingAndGlyphs">a</tspan></text>
<text y="774.9" font-size="27.51"><tspan x="400.11" textLength="16.98" lengthAdjust="spacingAndGlyphs">B</tspan></text>
<text y="803.4" font-size="27.51"><tspan x="424.55" textLength="17.6" lengthAdjust="spacingAndGlyphs">A</tspan><tspan x="442.71" textLength="15.71" lengthAdjust="spacingAndGlyphs">u</tspan></text>
<text y="829.1" font-size="27.51"><tspan x="365.54" textLength="15.58" lengthAdjust="spacingAndGlyphs">S</tspan><tspan x="381.65" textLength="11.18" lengthAdjust="spacingAndGlyphs">r</tspan></text>
<text y="909.4" font-size="27.51"><tspan x="131.58" textLength="18.69" lengthAdjust="spacingAndGlyphs">N</tspan><tspan x="151" textLength="15.49" lengthAdjust="spacingAndGlyphs">o</tspan></text>
<text y="899.9" font-size="27.51"><tspan x="251.53" textLength="17.62" lengthAdjust="spacingAndGlyphs">K</tspan></text>
<text y="939.2" font-size="27.51"><tspan x="229.94" textLength="18.1" lengthAdjust="spacingAndGlyphs">R</tspan><tspan x="247.63" textLength="13.1" lengthAdjust="spacingAndGlyphs">a</tspan></text>
<text y="972.4" font-size="27.51"><tspan x="180.16" textLength="13.72" lengthAdjust="spacingAndGlyphs">F</tspan><tspan x="194.9" textLength="24.87" lengthAdjust="spacingAndGlyphs">m</tspan></text>
<text y="1006" font-size="27.51"><tspan x="243.36" textLength="21.76" lengthAdjust="spacingAndGlyphs">M</tspan><tspan x="265.78" textLength="15.84" lengthAdjust="spacingAndGlyphs">d</tspan></text>
<text y="1036.5" font-size="27.51"><tspan x="283.95" textLength="17.6" lengthAdjust="spacingAndGlyphs">A</tspan><tspan x="302.12" textLength="24.87" lengthAdjust="spacingAndGlyphs">m</tspan></text>
<text y="1073.2" font-size="27.51"><tspan x="309.51" textLength="16.98" lengthAdjust="spacingAndGlyphs">B</tspan><tspan x="327.41" textLength="14.65" lengthAdjust="spacingAndGlyphs">k</tspan></text>
<text y="879.3" font-size="27.51"><tspan x="362.5" textLength="15.46" lengthAdjust="spacingAndGlyphs">P</tspan><tspan x="378.03" textLength="24.87" lengthAdjust="spacingAndGlyphs">m</tspan></text>
<text y="877.3" font-size="27.51"><tspan x="421.58" textLength="18.69" lengthAdjust="spacingAndGlyphs">N</tspan><tspan x="441.27" textLength="15.85" lengthAdjust="spacingAndGlyphs">b</tspan></text>
<text y="843.7" font-size="27.51"><tspan x="442.06" textLength="17.56" lengthAdjust="spacingAndGlyphs">C</tspan><tspan x="460.7" textLength="13.1" lengthAdjust="spacingAndGlyphs">a</tspan></text>
<text y="917.1" font-size="27.51"><tspan x="330.54" textLength="15.58" lengthAdjust="spacingAndGlyphs">S</tspan><tspan x="346.83" textLength="13.14" lengthAdjust="spacingAndGlyphs">c</tspan></text>
<text y="921.2" font-size="27.51"><tspan x="396.16" textLength="13.72" lengthAdjust="spacingAndGlyphs">F</tspan><tspan x="409.31" textLength="15.74" lengthAdjust="spacingAndGlyphs">e</tspan></text>
<text y="897.6" font-size="27.51"><tspan x="440.06" textLength="17.56" lengthAdjust="spacingAndGlyphs">C</tspan><tspan x="458.27" textLength="11.18" lengthAdjust="spacingAndGlyphs">r</tspan></text>
<text y="924.2" font-size="27.51"><tspan x="443.46" textLength="17.56" lengthAdjust="spacingAndGlyphs">C</tspan><tspan x="461.91" textLength="15.71" lengthAdjust="spacingAndGlyphs">u</tspan></text>
<text y="944.3" font-size="27.51"><tspan x="344.46" textLength="17.56" lengthAdjust="spacingAndGlyphs">C</tspan><tspan x="362.8" textLength="15.49" lengthAdjust="spacingAndGlyphs">o</tspan></text>
<text y="955" font-size="27.51"><tspan x="372.26" textLength="17.46" lengthAdjust="spacingAndGlyphs">T</tspan><tspan x="388.77">i</tspan></text>
<text y="659.1" font-size="27.51"><tspan x="516.81" textLength="18.6" lengthAdjust="spacingAndGlyphs">U</tspan></text>
<text y="704" font-size="27.51"><tspan x="509.66" textLength="18.82" lengthAdjust="spacingAndGlyphs">H</tspan><tspan x="529.65" textLength="12.56" lengthAdjust="spacingAndGlyphs">s</tspan></text>
<text y="723.6" font-size="27.51"><tspan x="430.46" textLength="18.82" lengthAdjust="spacingAndGlyphs">H</tspan><tspan x="449.98" textLength="15.84" lengthAdjust="spacingAndGlyphs">g</tspan></text>
<text y="757" font-size="27.51"><tspan x="433.66" textLength="17.46" lengthAdjust="spacingAndGlyphs">T</tspan><tspan x="450.96">l</tspan></text>
<text y="751.4" font-size="27.51"><tspan x="477.6" textLength="17.39" lengthAdjust="spacingAndGlyphs">Z</tspan><tspan x="495.78" textLength="15.71" lengthAdjust="spacingAndGlyphs">n</tspan></text>
<text y="742.3" font-size="27.51"><tspan x="537.96" textLength="17.46" lengthAdjust="spacingAndGlyphs">T</tspan><tspan x="555.22" textLength="15.85" lengthAdjust="spacingAndGlyphs">b</tspan></text>
<text y="757.6" font-size="27.51"><tspan x="574.08" textLength="18.69" lengthAdjust="spacingAndGlyphs">N</tspan><tspan x="593.48" textLength="15.84" lengthAdjust="spacingAndGlyphs">d</tspan></text>
<text y="786.9" font-size="27.51"><tspan x="509.28" textLength="18.69" lengthAdjust="spacingAndGlyphs">N</tspan></text>
<text y="797.6" font-size="27.51"><tspan x="543.96" textLength="17.56" lengthAdjust="spacingAndGlyphs">C</tspan><tspan x="562.27" textLength="15.84" lengthAdjust="spacingAndGlyphs">d</tspan></text>
<text y="818.8" font-size="27.51"><tspan x="563.58" textLength="18.69" lengthAdjust="spacingAndGlyphs">N</tspan><tspan x="583.3" textLength="13.1" lengthAdjust="spacingAndGlyphs">a</tspan></text>
<text y="842.7" font-size="27.51"><tspan x="547.66" textLength="17.46" lengthAdjust="spacingAndGlyphs">T</tspan><tspan x="560.17" textLength="15.74" lengthAdjust="spacingAndGlyphs">e</tspan></text>
<text y="840.3" font-size="27.51"><tspan x="489.51" textLength="16.98" lengthAdjust="spacingAndGlyphs">B</tspan><tspan x="507.15" textLength="11.18" lengthAdjust="spacingAndGlyphs">r</tspan></text>
<text y="859.4" font-size="27.51"><tspan x="508.9" textLength="15.46" lengthAdjust="spacingAndGlyphs">P</tspan><tspan x="524.57" textLength="15.85" lengthAdjust="spacingAndGlyphs">b</tspan></text>
<text y="809.2" font-size="27.51"><tspan x="623.84" textLength="15.15" lengthAdjust="spacingAndGlyphs">E</tspan><tspan x="640.07" textLength="15.71" lengthAdjust="spacingAndGlyphs">u</tspan></text>
<text y="881.9" font-size="27.51"><tspan x="539.91" textLength="16.98" lengthAdjust="spacingAndGlyphs">B</tspan><tspan x="557.65" textLength="15.74" lengthAdjust="spacingAndGlyphs">e</tspan></text>
<text y="870.5" font-size="27.51"><tspan x="578.96" textLength="18.82" lengthAdjust="spacingAndGlyphs">H</tspan><tspan x="598.35" textLength="9.55" lengthAdjust="spacingAndGlyphs">f</tspan></text>
<text y="905.1" font-size="27.51"><tspan x="478.36" textLength="17.56" lengthAdjust="spacingAndGlyphs">C</tspan><tspan x="496.67" textLength="15.74" lengthAdjust="spacingAndGlyphs">e</tspan></text>
<text y="911.5" font-size="27.51"><tspan x="549.57">I</tspan></text>
<text y="947.3" font-size="27.51"><tspan x="539.1" textLength="15.46" lengthAdjust="spacingAndGlyphs">P</tspan></text>
<text y="916.1" font-size="27.51"><tspan x="582.3" textLength="17.39" lengthAdjust="spacingAndGlyphs">Z</tspan><tspan x="600.12" textLength="11.18" lengthAdjust="spacingAndGlyphs">r</tspan></text>
<text y="952.3" font-size="27.51"><tspan x="610.74" textLength="15.58" lengthAdjust="spacingAndGlyphs">S</tspan><tspan x="627.3">i</tspan></text>
<text y="980.5" font-size="27.51"><tspan x="418.6" textLength="15.46" lengthAdjust="spacingAndGlyphs">P</tspan><tspan x="433.42" textLength="11.18" lengthAdjust="spacingAndGlyphs">r</tspan></text>
<text y="966.4" font-size="27.51"><tspan x="467.44" textLength="18.1" lengthAdjust="spacingAndGlyphs">R</tspan><tspan x="484.35" textLength="15.71" lengthAdjust="spacingAndGlyphs">u</tspan></text>
<text y="987.9" font-size="27.51"><tspan x="471.29" textLength="14.99" lengthAdjust="spacingAndGlyphs">L</tspan><tspan x="486.1" textLength="13.1" lengthAdjust="spacingAndGlyphs">a</tspan></text>
<text y="988.9" font-size="27.51"><tspan x="502.09" textLength="14.99" lengthAdjust="spacingAndGlyphs">L</tspan><tspan x="516.92">i</tspan></text>
<text y="980.9" font-size="27.51"><tspan x="565.97" textLength="20.15" lengthAdjust="spacingAndGlyphs">O</tspan><tspan x="587.07" textLength="12.56" lengthAdjust="spacingAndGlyphs">s</tspan></text>
<text y="1019.6" font-size="27.51"><tspan x="464.33" textLength="17.24" lengthAdjust="spacingAndGlyphs">Y</tspan><tspan x="481.5" textLength="15.85" lengthAdjust="spacingAndGlyphs">b</tspan></text>
<text y="1036.9" font-size="27.51"><tspan x="407.97">I</tspan><tspan x="415.81" textLength="11.18" lengthAdjust="spacingAndGlyphs">r</tspan></text>
<text y="1052.4" font-size="27.51"><tspan x="429.36" textLength="13.72" lengthAdjust="spacingAndGlyphs">F</tspan><tspan x="444.28">l</tspan></text>
<text y="1051.4" font-size="27.51"><tspan x="475" textLength="15.46" lengthAdjust="spacingAndGlyphs">P</tspan><tspan x="489.47" textLength="15.49" lengthAdjust="spacingAndGlyphs">o</tspan></text>
<text y="1031.6" font-size="27.51"><tspan x="552.81" textLength="19.88" lengthAdjust="spacingAndGlyphs">G</tspan><tspan x="573.18" textLength="15.84" lengthAdjust="spacingAndGlyphs">d</tspan></text>
<text y="1012.7" font-size="27.51"><tspan x="596.86" textLength="17.56" lengthAdjust="spacingAndGlyphs">C</tspan><tspan x="615.64" textLength="12.56" lengthAdjust="spacingAndGlyphs">s</tspan></text>
<text y="1067.9" font-size="27.51"><tspan x="518.91" textLength="16.98" lengthAdjust="spacingAndGlyphs">B</tspan><tspan x="537">i</tspan></text>
<text y="1101.1" font-size="27.51"><tspan x="403.68" textLength="18.69" lengthAdjust="spacingAndGlyphs">N</tspan><tspan x="423.37" textLength="15.85" lengthAdjust="spacingAndGlyphs">p</tspan></text>
<text y="1097.5" font-size="27.51"><tspan x="479.06" textLength="17.56" lengthAdjust="spacingAndGlyphs">C</tspan><tspan x="497.24" textLength="9.55" lengthAdjust="spacingAndGlyphs">f</tspan></text>
<text y="1095.4" font-size="27.51"><tspan x="556.24" textLength="18.1" lengthAdjust="spacingAndGlyphs">R</tspan><tspan x="574.18" textLength="15.84" lengthAdjust="spacingAndGlyphs">g</tspan></text>
<text y="685" font-size="27.51"><tspan x="644.96" textLength="21.76" lengthAdjust="spacingAndGlyphs">M</tspan><tspan x="667.46" textLength="13.14" lengthAdjust="spacingAndGlyphs">c</tspan></text>
<text y="739.8" font-size="27.51"><tspan x="642.76" textLength="18.82" lengthAdjust="spacingAndGlyphs">H</tspan></text>
<text y="777.2" font-size="27.51"><tspan x="691.16" textLength="17.56" lengthAdjust="spacingAndGlyphs">C</tspan></text>
<text y="774.1" font-size="27.51"><tspan x="758.76" textLength="21.76" lengthAdjust="spacingAndGlyphs">M</tspan><tspan x="781.18" textLength="15.84" lengthAdjust="spacingAndGlyphs">g</tspan></text>
<text y="794.1" font-size="27.51"><tspan x="600.19" textLength="24.38" lengthAdjust="spacingAndGlyphs">W</tspan></text>
<text y="801" font-size="27.51"><tspan x="718.16" textLength="13.72" lengthAdjust="spacingAndGlyphs">F</tspan></text>
<text y="829.1" font-size="27.51"><tspan x="702.24" textLength="15.58" lengthAdjust="spacingAndGlyphs">S</tspan><tspan x="718.75" textLength="15.85" lengthAdjust="spacingAndGlyphs">b</tspan></text>
<text y="832.2" font-size="27.51"><tspan x="654.2" textLength="15.46" lengthAdjust="spacingAndGlyphs">P</tspan><tspan x="669.58" textLength="15.84" lengthAdjust="spacingAndGlyphs">d</tspan></text>
<text y="839.8" font-size="27.51"><tspan x="593.24" textLength="15.15" lengthAdjust="spacingAndGlyphs">E</tspan><tspan x="609.23" textLength="11.18" lengthAdjust="spacingAndGlyphs">r</tspan></text>
<text y="849.9" font-size="27.51"><tspan x="757.55" textLength="17.6" lengthAdjust="spacingAndGlyphs">A</tspan><tspan x="775.9">l</tspan></text>
<text y="859.4" font-size="27.51"><tspan x="701.84" textLength="15.58" lengthAdjust="spacingAndGlyphs">S</tspan><tspan x="718.31" textLength="15.71" lengthAdjust="spacingAndGlyphs">n</tspan></text>
<text y="876.4" font-size="27.51"><tspan x="683.61" textLength="16.98" lengthAdjust="spacingAndGlyphs">B</tspan><tspan x="701.68" textLength="13.1" lengthAdjust="spacingAndGlyphs">a</tspan></text>
<text y="879.8" font-size="27.51"><tspan x="611.91" textLength="19.88" lengthAdjust="spacingAndGlyphs">G</tspan><tspan x="632.27" textLength="15.74" lengthAdjust="spacingAndGlyphs">e</tspan></text>
<text y="894.9" font-size="27.51"><tspan x="646.84" textLength="18.1" lengthAdjust="spacingAndGlyphs">R</tspan><tspan x="664.94" textLength="15.82" lengthAdjust="spacingAndGlyphs">h</tspan></text>
<text y="902.6" font-size="27.51"><tspan x="718.34" textLength="15.58" lengthAdjust="spacingAndGlyphs">S</tspan></text>
<text y="916.1" font-size="27.51"><tspan x="686.57" textLength="20.15" lengthAdjust="spacingAndGlyphs">O</tspan></text>
<text y="929.6" font-size="27.51"><tspan x="721.96" textLength="17.46" lengthAdjust="spacingAndGlyphs">T</tspan><tspan x="734.56" textLength="13.14" lengthAdjust="spacingAndGlyphs">c</tspan></text>
<text y="918.1" font-size="27.51"><tspan x="624.56" textLength="18.82" lengthAdjust="spacingAndGlyphs">H</tspan><tspan x="644.11" textLength="15.49" lengthAdjust="spacingAndGlyphs">o</tspan></text>
<text y="944.9" font-size="27.51"><tspan x="684.56" textLength="21.76" lengthAdjust="spacingAndGlyphs">M</tspan><tspan x="707.01" textLength="15.49" lengthAdjust="spacingAndGlyphs">o</tspan></text>
<text y="969.8" font-size="27.51"><tspan x="656.45" textLength="17.6" lengthAdjust="spacingAndGlyphs">A</tspan><tspan x="674.47" textLength="15.84" lengthAdjust="spacingAndGlyphs">g</tspan></text>
<text y="985.3" font-size="27.51"><tspan x="618.06" textLength="17.46" lengthAdjust="spacingAndGlyphs">T</tspan><tspan x="631.02" textLength="13.1" lengthAdjust="spacingAndGlyphs">a</tspan></text>
<text y="1061.9" font-size="27.51"><tspan x="615.24" textLength="18.1" lengthAdjust="spacingAndGlyphs">R</tspan><tspan x="633.48" textLength="15.85" lengthAdjust="spacingAndGlyphs">b</tspan></text>
<text y="1001.4" font-size="27.51"><tspan x="684.89" textLength="14.99" lengthAdjust="spacingAndGlyphs">L</tspan><tspan x="699.06" textLength="15.71" lengthAdjust="spacingAndGlyphs">u</tspan></text>
<text y="973.2" font-size="27.51"><tspan x="723.35" textLength="17.6" lengthAdjust="spacingAndGlyphs">A</tspan><tspan x="741.84" textLength="12.56" lengthAdjust="spacingAndGlyphs">s</tspan></text>
<text y="997.9" font-size="27.51"><tspan x="764.63" textLength="17.24" lengthAdjust="spacingAndGlyphs">Y</tspan></text>
<text y="1045.7" font-size="27.51"><tspan x="743.76" textLength="13.72" lengthAdjust="spacingAndGlyphs">F</tspan><tspan x="756.34" textLength="11.18" lengthAdjust="spacingAndGlyphs">r</tspan></text>
<text y="1072.9" font-size="27.51"><tspan x="669.56" textLength="17.46" lengthAdjust="spacingAndGlyphs">T</tspan><tspan x="686.69" textLength="15.82" lengthAdjust="spacingAndGlyphs">h</tspan></text>
<text y="1108.8" font-size="27.51"><tspan x="648.66" textLength="21.76" lengthAdjust="spacingAndGlyphs">M</tspan><tspan x="671.1" textLength="9.55" lengthAdjust="spacingAndGlyphs">t</tspan></text>
<text y="1090.9" font-size="27.51"><tspan x="762.38" textLength="19.58" lengthAdjust="spacingAndGlyphs">D</tspan><tspan x="782.92" textLength="12.56" lengthAdjust="spacingAndGlyphs">s</tspan></text>
<text y="709.9" font-size="27.51"><tspan x="824.96" textLength="17.56" lengthAdjust="spacingAndGlyphs">C</tspan><tspan x="843.42" textLength="24.87" lengthAdjust="spacingAndGlyphs">m</tspan></text>
<text y="756.8" font-size="27.51"><tspan x="839.84" textLength="15.15" lengthAdjust="spacingAndGlyphs">E</tspan><tspan x="856.4" textLength="12.56" lengthAdjust="spacingAndGlyphs">s</tspan></text>
<text y="798.4" font-size="27.51"><tspan x="921.68" textLength="18.69" lengthAdjust="spacingAndGlyphs">N</tspan><tspan x="941.23" textLength="15.82" lengthAdjust="spacingAndGlyphs">h</tspan></text>
<text y="813" font-size="27.51"><tspan x="806.38" textLength="17.73" lengthAdjust="spacingAndGlyphs">V</tspan></text>
<text y="836.4" font-size="27.51"><tspan x="924.76" textLength="17.46" lengthAdjust="spacingAndGlyphs">T</tspan><tspan x="937.86" textLength="12.56" lengthAdjust="spacingAndGlyphs">s</tspan></text>
<text y="845.1" font-size="27.51"><tspan x="779.96" textLength="17.46" lengthAdjust="spacingAndGlyphs">T</tspan><tspan x="797.08" textLength="24.87" lengthAdjust="spacingAndGlyphs">m</tspan></text>
<text y="885" font-size="27.51"><tspan x="900.8" textLength="15.46" lengthAdjust="spacingAndGlyphs">P</tspan><tspan x="916.19" textLength="9.55" lengthAdjust="spacingAndGlyphs">t</tspan></text>
<text y="888.5" font-size="27.51"><tspan x="950" textLength="15.46" lengthAdjust="spacingAndGlyphs">P</tspan><tspan x="965.06" textLength="15.71" lengthAdjust="spacingAndGlyphs">u</tspan></text>
<text y="899.1" font-size="27.51"><tspan x="810.58" textLength="19.58" lengthAdjust="spacingAndGlyphs">D</tspan><tspan x="831.11" textLength="14.07" lengthAdjust="spacingAndGlyphs">y</tspan></text>
<text y="915.5" font-size="27.51"><tspan x="841.54" textLength="15.58" lengthAdjust="spacingAndGlyphs">S</tspan><tspan x="857.9" textLength="24.87" lengthAdjust="spacingAndGlyphs">m</tspan></text>
<text y="922.7" font-size="27.51"><tspan x="772.85" textLength="17.6" lengthAdjust="spacingAndGlyphs">A</tspan><tspan x="790.42" textLength="9.55" lengthAdjust="spacingAndGlyphs">t</tspan></text>
<text y="941.8" font-size="27.51"><tspan x="908.54" textLength="18.1" lengthAdjust="spacingAndGlyphs">R</tspan><tspan x="926.35" textLength="9.55" lengthAdjust="spacingAndGlyphs">f</tspan></text>
<text y="958.2" font-size="27.51"><tspan x="777.74" textLength="15.58" lengthAdjust="spacingAndGlyphs">S</tspan><tspan x="793.95" textLength="15.74" lengthAdjust="spacingAndGlyphs">e</tspan></text>
<text y="991" font-size="27.51"><tspan x="842.1" textLength="15.46" lengthAdjust="spacingAndGlyphs">P</tspan><tspan x="856.62" textLength="13.1" lengthAdjust="spacingAndGlyphs">a</tspan></text>
<text y="1006.7" font-size="27.51"><tspan x="914.76" textLength="17.56" lengthAdjust="spacingAndGlyphs">C</tspan><tspan x="933.33" textLength="15.71" lengthAdjust="spacingAndGlyphs">n</tspan></text>
<text y="1041.7" font-size="27.51"><tspan x="816.25" textLength="17.6" lengthAdjust="spacingAndGlyphs">A</tspan><tspan x="833.89" textLength="13.14" lengthAdjust="spacingAndGlyphs">c</tspan></text>
<text y="1000.5" font-size="27.51"><tspan x="342.57">I</tspan><tspan x="350.76" textLength="15.71" lengthAdjust="spacingAndGlyphs">n</tspan></text>
</g>
<rect x="90.8" y="637" width="900.5" height="485.7" fill="none" stroke="#000" stroke-width="3.0"/>
<line x1="253.5" y1="1122.7" x2="253.5" y2="1128" stroke="#000" stroke-width="1.6"/>
<text y="1155.3" font-size="30.45"><tspan x="245.36" textLength="16.05" lengthAdjust="spacingAndGlyphs">5</tspan></text>
<line x1="452.1" y1="1122.7" x2="452.1" y2="1128" stroke="#000" stroke-width="1.6"/>
<text y="1155.3" font-size="30.45"><tspan x="443.29" textLength="17.6" lengthAdjust="spacingAndGlyphs">6</tspan></text>
<line x1="650.7" y1="1122.7" x2="650.7" y2="1128" stroke="#000" stroke-width="1.6"/>
<text y="1155.3" font-size="30.45"><tspan x="642.32" textLength="16.63" lengthAdjust="spacingAndGlyphs">7</tspan></text>
<line x1="849.3" y1="1122.7" x2="849.3" y2="1128" stroke="#000" stroke-width="1.6"/>
<text y="1155.3" font-size="30.45"><tspan x="840.7" textLength="17.19" lengthAdjust="spacingAndGlyphs">8</tspan></text>
<line x1="85.5" y1="1121.4" x2="90.8" y2="1121.4" stroke="#000" stroke-width="1.6"/>
<text y="1132.6" font-size="30.45"><tspan x="63.13" textLength="16.63" lengthAdjust="spacingAndGlyphs">7</tspan></text>
<line x1="85.5" y1="1002.62" x2="90.8" y2="1002.62" stroke="#000" stroke-width="1.6"/>
<text y="1013.82" font-size="30.45"><tspan x="62.9" textLength="17.19" lengthAdjust="spacingAndGlyphs">8</tspan></text>
<line x1="85.5" y1="883.84" x2="90.8" y2="883.84" stroke="#000" stroke-width="1.6"/>
<text y="895.04" font-size="30.45"><tspan x="62.63" textLength="17.56" lengthAdjust="spacingAndGlyphs">9</tspan></text>
<line x1="85.5" y1="765.06" x2="90.8" y2="765.06" stroke="#000" stroke-width="1.6"/>
<text y="776.26" font-size="30.45"><tspan x="44.79" textLength="16.24" lengthAdjust="spacingAndGlyphs">1</tspan><tspan x="63">0</tspan></text>
<line x1="85.5" y1="646.28" x2="90.8" y2="646.28" stroke="#000" stroke-width="1.6"/>
<text y="657.48" font-size="30.45"><tspan x="44.79" textLength="16.24" lengthAdjust="spacingAndGlyphs">1</tspan><tspan x="63.24" textLength="16.24" lengthAdjust="spacingAndGlyphs">1</tspan></text>
</g>
<text y="564.3" font-size="33.43"><tspan x="478.04" textLength="19.37" lengthAdjust="spacingAndGlyphs">u</tspan><tspan x="498.52" textLength="30.66" lengthAdjust="spacingAndGlyphs">m</tspan><tspan x="530.2" textLength="16.15" lengthAdjust="spacingAndGlyphs">a</tspan><tspan x="549.95" textLength="19.54" lengthAdjust="spacingAndGlyphs">p</tspan></text>
<text y="551.5" font-size="22.6"><tspan x="570.97" textLength="13.25" lengthAdjust="spacingAndGlyphs">0</tspan></text>
<text y="1195.9" font-size="33.43"><tspan x="486.74" textLength="19.37" lengthAdjust="spacingAndGlyphs">u</tspan><tspan x="507.22" textLength="30.66" lengthAdjust="spacingAndGlyphs">m</tspan><tspan x="538.9" textLength="16.15" lengthAdjust="spacingAndGlyphs">a</tspan><tspan x="558.65" textLength="19.54" lengthAdjust="spacingAndGlyphs">p</tspan></text>
<text y="1184.2" font-size="22.6"><tspan x="579.57" textLength="13.25" lengthAdjust="spacingAndGlyphs">0</tspan></text>
<g transform="rotate(-90)">
<text y="30" font-size="33.43"><tspan x="-300.56" textLength="19.37" lengthAdjust="spacingAndGlyphs">u</tspan><tspan x="-280.08" textLength="30.66" lengthAdjust="spacingAndGlyphs">m</tspan><tspan x="-248.4" textLength="16.15" lengthAdjust="spacingAndGlyphs">a</tspan><tspan x="-228.65" textLength="19.54" lengthAdjust="spacingAndGlyphs">p</tspan></text>
<text y="17" font-size="22.6"><tspan x="-208.33" textLength="12.65" lengthAdjust="spacingAndGlyphs">1</tspan></text>
</g>
<g transform="rotate(-90)">
<text y="30" font-size="33.43"><tspan x="-933.86" textLength="19.37" lengthAdjust="spacingAndGlyphs">u</tspan><tspan x="-913.38" textLength="30.66" lengthAdjust="spacingAndGlyphs">m</tspan><tspan x="-881.7" textLength="16.15" lengthAdjust="spacingAndGlyphs">a</tspan><tspan x="-861.95" textLength="19.54" lengthAdjust="spacingAndGlyphs">p</tspan></text>
<text y="17" font-size="22.6"><tspan x="-841.13" textLength="12.65" lengthAdjust="spacingAndGlyphs">1</tspan></text>
</g>
</svg>
</body></html>
